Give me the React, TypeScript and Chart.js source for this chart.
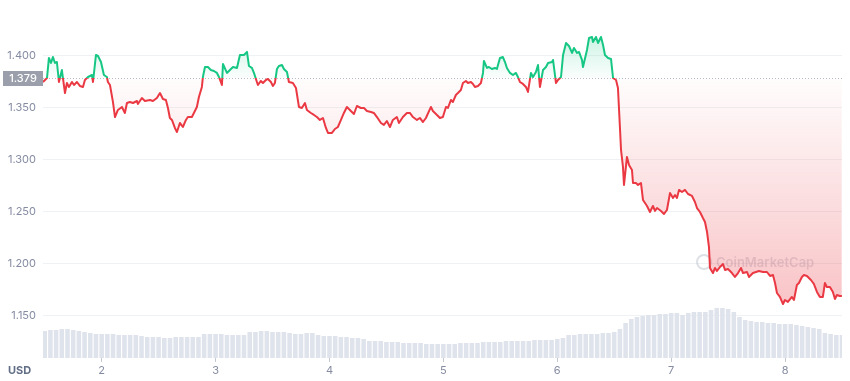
import React, { useEffect, useRef } from "react";
import { Chart, registerables } from "chart.js";

Chart.register(...registerables);

const BASELINE = 1.379;
const GREEN = "#16c784";
const RED = "#ea3943";

const priceDays = [
  1.485, 1.52, 1.537, 1.555, 1.572, 1.59, 1.607, 1.625, 1.651, 1.66, 1.678, 1.695, 1.713, 1.739, 1.757, 1.783, 1.809, 1.836, 1.853, 1.88,
  1.915, 1.924, 1.95, 1.968, 1.994, 2.02, 2.046, 2.055, 2.073, 2.099, 2.117, 2.143, 2.178, 2.204, 2.222, 2.248, 2.275, 2.31, 2.318, 2.353,
  2.38, 2.424, 2.45, 2.485, 2.512, 2.538, 2.564, 2.582, 2.599, 2.617, 2.643, 2.661, 2.687, 2.713, 2.74, 2.757, 2.792, 2.81, 2.836, 2.854,
  2.88, 2.889, 2.907, 2.933, 2.959, 2.986, 3.012, 3.03, 3.056, 3.065, 3.1, 3.126, 3.153, 3.188,
  3.214, 3.249, 3.276, 3.293, 3.319, 3.337, 3.363, 3.372, 3.398, 3.416, 3.442, 3.46, 3.486, 3.504, 3.521, 3.539, 3.556, 3.583, 3.6, 3.627,
  3.644, 3.679, 3.706, 3.732, 3.758, 3.785, 3.802, 3.837, 3.864, 3.89, 3.916, 3.943, 3.969, 3.987, 4.022, 4.048, 4.074, 4.101, 4.127, 4.153,
  4.188, 4.215, 4.241, 4.276, 4.303, 4.329, 4.364, 4.39, 4.417, 4.452, 4.478, 4.504, 4.531, 4.557, 4.592, 4.61, 4.645, 4.68, 4.706, 4.733,
  4.768, 4.794, 4.821, 4.847, 4.891, 4.908, 4.944,
  4.97, 4.996, 5.023, 5.04, 5.067, 5.084, 5.11, 5.128, 5.154, 5.172, 5.198, 5.216, 5.242, 5.26, 5.277, 5.304, 5.33, 5.348, 5.356, 5.383,
  5.4, 5.426, 5.453, 5.47, 5.497, 5.523, 5.541, 5.558, 5.585, 5.611, 5.637, 5.655, 5.672, 5.699, 5.725, 5.743, 5.769, 5.787, 5.813, 5.831,
  5.848, 5.875, 5.901, 5.919, 5.954, 5.963, 5.989, 6.006, 6.033, 6.051, 6.077, 6.103, 6.13, 6.147, 6.174, 6.191, 6.217, 6.226, 6.261, 6.279,
  6.305, 6.314, 6.34, 6.358, 6.384, 6.402, 6.419, 6.446, 6.472, 6.49, 6.516, 6.533, 6.551,
  6.56, 6.577, 6.586, 6.612, 6.63, 6.656, 6.665, 6.691, 6.709, 6.735, 6.753, 6.788, 6.814, 6.84, 6.858, 6.876, 6.911, 6.937, 6.963, 6.99,
  7.016, 7.034, 7.051, 7.069, 7.095, 7.121, 7.148, 7.183, 7.209, 7.227, 7.253, 7.279, 7.297, 7.315, 7.332, 7.341, 7.367, 7.385, 7.402, 7.429,
  7.455, 7.473, 7.499, 7.534, 7.56, 7.587, 7.613, 7.631, 7.666, 7.683, 7.718, 7.745, 7.771, 7.806, 7.841, 7.868, 7.894, 7.912, 7.929, 7.955,
  7.982, 7.999, 8.025, 8.06, 8.078, 8.104, 8.122, 8.148, 8.166, 8.192, 8.227, 8.253, 8.28, 8.306, 8.332, 8.35, 8.367, 8.394, 8.42, 8.438,
  8.455, 8.481, 8.499,
];

const prices = [
  1.375, 1.3788, 1.3981, 1.3933, 1.399, 1.3933, 1.3942, 1.375, 1.3865, 1.3788, 1.3644, 1.374, 1.3702, 1.375, 1.3721, 1.375, 1.3712, 1.3702, 1.3769, 1.3798,
  1.3817, 1.375, 1.401, 1.4, 1.3942, 1.3817, 1.3798, 1.375, 1.3721, 1.3558, 1.3413, 1.3481, 1.351, 1.3452, 1.3548, 1.3558, 1.3548, 1.3567, 1.3538, 1.3596,
  1.3567, 1.3577, 1.3567, 1.3596, 1.3644, 1.3587, 1.3577, 1.35, 1.3404, 1.3385, 1.3308, 1.3269, 1.3356, 1.3317, 1.3385, 1.3413, 1.3413, 1.3452, 1.351, 1.3606,
  1.3702, 1.3798, 1.3894, 1.3894, 1.3865, 1.3856, 1.3837, 1.3798, 1.3721, 1.3923, 1.3837, 1.3865, 1.3894, 1.3885,
  1.401, 1.401, 1.4039, 1.3904, 1.3885, 1.3837, 1.375, 1.3721, 1.376, 1.374, 1.3769, 1.3779, 1.375, 1.3712, 1.374, 1.3875, 1.3904, 1.3913, 1.3875, 1.3846,
  1.375, 1.374, 1.3692, 1.351, 1.35, 1.3548, 1.3481, 1.3452, 1.3433, 1.3413, 1.3385, 1.3404, 1.3308, 1.326, 1.326, 1.3298, 1.3317, 1.3385, 1.3452, 1.351,
  1.3471, 1.3442, 1.3519, 1.35, 1.35, 1.3471, 1.3462, 1.3452, 1.3413, 1.3356, 1.3337, 1.3375, 1.3317, 1.3385, 1.3413, 1.3356, 1.3413, 1.3452, 1.3452, 1.3413,
  1.3385, 1.3404, 1.3365, 1.3404, 1.351, 1.3471, 1.3433,
  1.3404, 1.3413, 1.351, 1.35, 1.3577, 1.3558, 1.3625, 1.3644, 1.3673, 1.374, 1.376, 1.374, 1.375, 1.3731, 1.3702, 1.3712, 1.374, 1.3837, 1.3952, 1.3885,
  1.3894, 1.3875, 1.3885, 1.3875, 1.3981, 1.399, 1.3942, 1.3885, 1.3837, 1.3817, 1.3837, 1.3798, 1.375, 1.3731, 1.3702, 1.3654, 1.3837, 1.3798, 1.3846, 1.3913,
  1.3702, 1.3865, 1.3894, 1.3933, 1.3942, 1.3962, 1.374, 1.3769, 1.3798, 1.401, 1.4125, 1.4096, 1.4029, 1.4077, 1.4029, 1.4039, 1.3962, 1.3894, 1.4058, 1.4173,
  1.4183, 1.4135, 1.4183, 1.4125, 1.4183, 1.4106, 1.401, 1.3981, 1.3971, 1.3788, 1.3769, 1.3692, 1.3298,
  1.3096, 1.2933, 1.276, 1.3029, 1.2952, 1.2904, 1.2779, 1.2779, 1.276, 1.2779, 1.2615, 1.2558, 1.25, 1.2558, 1.251, 1.2538, 1.251, 1.2481, 1.2519, 1.2683,
  1.2635, 1.2663, 1.2635, 1.2712, 1.2692, 1.2712, 1.2673, 1.2654, 1.2596, 1.2538, 1.25, 1.2442, 1.2404, 1.2308, 1.2163, 1.1962, 1.1913, 1.1962, 1.1933, 1.1971,
  1.2, 1.1942, 1.1952, 1.1913, 1.1875, 1.1913, 1.1962, 1.1913, 1.1923, 1.1875, 1.1913, 1.1923, 1.1933, 1.1923, 1.1923, 1.1885, 1.1894, 1.1817, 1.1721, 1.1683,
  1.1615, 1.1654, 1.1635, 1.1683, 1.1654, 1.1798, 1.1817, 1.1875, 1.1894, 1.1885, 1.1846, 1.1808, 1.1731, 1.1683, 1.1683, 1.1817, 1.1779, 1.1779, 1.1731, 1.1663,
  1.1702, 1.1692, 1.1692,
];

// 24h volume, one bar every 0.05 day from day 1.50 (relative units)
const volumeStartDay = 1.5;
const volumeStepDay = 0.05;
const volumes = [
  27, 28, 28, 29, 29, 28, 27, 26, 25, 24,
  24, 24, 24, 23, 23, 23, 23, 22, 21, 21,
  21, 20, 20, 21, 21, 21, 21, 21, 24, 24,
  24, 24, 23, 23, 23, 23, 26, 26, 27, 27,
  26, 26, 26, 25, 24, 24, 25, 25, 23, 22,
  22, 22, 21, 21, 20, 20, 19, 17, 17, 17,
  16, 16, 16, 15, 15, 15, 15, 14, 14, 14,
  14, 14, 14, 15, 15, 15, 15, 16, 16, 16,
  16, 17, 17, 17, 17, 17, 18, 18, 18, 18,
  19, 20, 23, 23, 24, 24, 24, 24, 25, 25,
  26, 29, 35, 39, 41, 42, 43, 43, 44, 44,
  45, 45, 43, 45, 46, 46, 46, 48, 50, 50,
  49, 46, 41, 38, 37, 36, 36, 35, 35, 34,
  34, 34, 33, 32, 31, 30, 29, 25, 24, 23,
  23,
];

const yTicks = [1.15, 1.2, 1.25, 1.3, 1.35, 1.4];
const xTicks = [2, 3, 4, 5, 6, 7, 8];

const X_MIN = 1.485;
const X_MAX = 8.5;
const Y_MIN = 1.1096;
const Y_MAX = 1.4346;
const VOL_MAX = 338;

const FONT = "Inter, 'Noto Sans', sans-serif";

const overlayPlugin = {
  id: "overlay",
  beforeDatasetsDraw(chart: any) {
    const { ctx, chartArea, scales } = chart;
    const yb = Math.round(scales.y.getPixelForValue(BASELINE)) + 0.5;
    ctx.save();
    // watermark
    ctx.globalAlpha = 0.3;
    ctx.strokeStyle = "#8f98a8";
    ctx.lineWidth = 2;
    ctx.beginPath();
    ctx.arc(704, 262, 7, 0, Math.PI * 2);
    ctx.stroke();
    ctx.fillStyle = "#8f98a8";
    ctx.font = `600 13px ${FONT}`;
    ctx.textBaseline = "middle";
    ctx.textAlign = "left";
    ctx.fillText("CoinMarketCap", 716, 263);
    ctx.globalAlpha = 1;
    // dotted baseline
    ctx.strokeStyle = "#b9bec8";
    ctx.lineWidth = 1;
    ctx.setLineDash([1, 2]);
    ctx.beginPath();
    ctx.moveTo(chartArea.left, yb);
    ctx.lineTo(chartArea.right, yb);
    ctx.stroke();
    ctx.restore();
  },
  afterDraw(chart: any) {
    const { ctx, scales } = chart;
    const yb = scales.y.getPixelForValue(BASELINE);
    ctx.save();
    ctx.fillStyle = "#9a9fab";
    ctx.fillRect(3, Math.round(yb) - 7, 40, 15);
    ctx.fillStyle = "#ffffff";
    ctx.font = `500 11px ${FONT}`;
    ctx.textAlign = "center";
    ctx.textBaseline = "middle";
    ctx.fillText(BASELINE.toFixed(3), 23, Math.round(yb) + 0.5);
    ctx.fillStyle = "#616e85";
    ctx.font = `700 11px ${FONT}`;
    ctx.textAlign = "left";
    ctx.fillText("USD", 8, 371);
    ctx.restore();
  },
};

export default function App() {
  const ref = useRef<HTMLCanvasElement | null>(null);

  useEffect(() => {
    const canvas = ref.current;
    if (!canvas) return;
    Chart.defaults.font.family = FONT;

    const chart = new Chart(canvas, {
      data: {
        datasets: [
          {
            type: "line",
            label: "Price",
            data: priceDays.map((d, i) => ({ x: d, y: prices[i] })),
            yAxisID: "y",
            borderColor: RED,
            borderWidth: 2,
            borderJoinStyle: "round",
            pointRadius: 0,
            tension: 0,
            fill: { target: { value: BASELINE }, above: "rgba(22,199,132,0.1)", below: "rgba(234,57,67,0.1)" },
            order: 1,
          } as any,
          {
            type: "bar",
            label: "Volume",
            data: volumes.map((v, i) => ({ x: volumeStartDay + i * volumeStepDay, y: v })),
            yAxisID: "vol",
            backgroundColor: "#dfe3ec",
            barPercentage: 1,
            categoryPercentage: 0.8,
            order: 2,
          } as any,
        ],
      },
      options: {
        responsive: false,
        maintainAspectRatio: false,
        animation: false,
        layout: { padding: { top: 20, right: 8, left: 0, bottom: 0 } },
        plugins: { legend: { display: false }, tooltip: { enabled: false } },
        scales: {
          x: {
            type: "linear",
            min: X_MIN,
            max: X_MAX,
            offset: false,
            afterBuildTicks: (axis: any) => {
              axis.ticks = xTicks.map((v) => ({ value: v }));
            },
            afterFit: (axis: any) => {
              axis.height = 23;
            },
            grid: { display: true, offset: false, drawOnChartArea: false, drawTicks: true, tickLength: 4, tickColor: "#c3c8d1" },
            border: { display: false },
            ticks: {
              padding: 2,
              color: "#858ca2",
              font: { family: FONT, size: 11 },
              maxRotation: 0,
              autoSkip: false,
              callback: (v: any) => String(v),
            },
          },
          y: {
            type: "linear",
            position: "left",
            min: Y_MIN,
            max: Y_MAX,
            afterBuildTicks: (axis: any) => {
              axis.ticks = yTicks.map((v) => ({ value: v }));
            },
            afterFit: (axis: any) => {
              axis.width = 43;
            },
            grid: { color: "#eff2f5", drawTicks: false },
            border: { display: false },
            ticks: {
              padding: 7,
              color: "#858ca2",
              font: { family: FONT, size: 11 },
              callback: (v: any) => Number(v).toFixed(3),
            },
          },
          vol: {
            type: "linear",
            display: false,
            min: 0,
            max: VOL_MAX,
          },
        },
      } as any,
      plugins: [overlayPlugin],
    });

    const area = chart.chartArea;
    const ys = chart.scales.y;
    const c2d = chart.ctx;
    const yb = ys.getPixelForValue(BASELINE);
    const frac = Math.min(1, Math.max(0, (yb - area.top) / (area.bottom - area.top)));
    const lineGrad = c2d.createLinearGradient(0, area.top, 0, area.bottom);
    lineGrad.addColorStop(0, GREEN);
    lineGrad.addColorStop(frac, GREEN);
    lineGrad.addColorStop(frac, RED);
    lineGrad.addColorStop(1, RED);

    const greenGrad = c2d.createLinearGradient(0, ys.getPixelForValue(1.42), 0, yb);
    greenGrad.addColorStop(0, "rgba(22,199,132,0.22)");
    greenGrad.addColorStop(1, "rgba(22,199,132,0.02)");

    const redGrad = c2d.createLinearGradient(0, yb, 0, ys.getPixelForValue(1.16));
    redGrad.addColorStop(0, "rgba(234,57,67,0.01)");
    redGrad.addColorStop(1, "rgba(234,57,67,0.30)");

    const ds: any = chart.data.datasets[0];
    ds.borderColor = lineGrad;
    ds.fill = { target: { value: BASELINE }, above: greenGrad, below: redGrad };
    chart.update();

    return () => chart.destroy();
  }, []);

  return (
    <div style={{ position: "absolute", left: 0, top: 0, width: 850, height: 381, background: "#fff" }}>
      <canvas ref={ref} width={850} height={381} style={{ display: "block", width: 850, height: 381 }} />
    </div>
  );
}
